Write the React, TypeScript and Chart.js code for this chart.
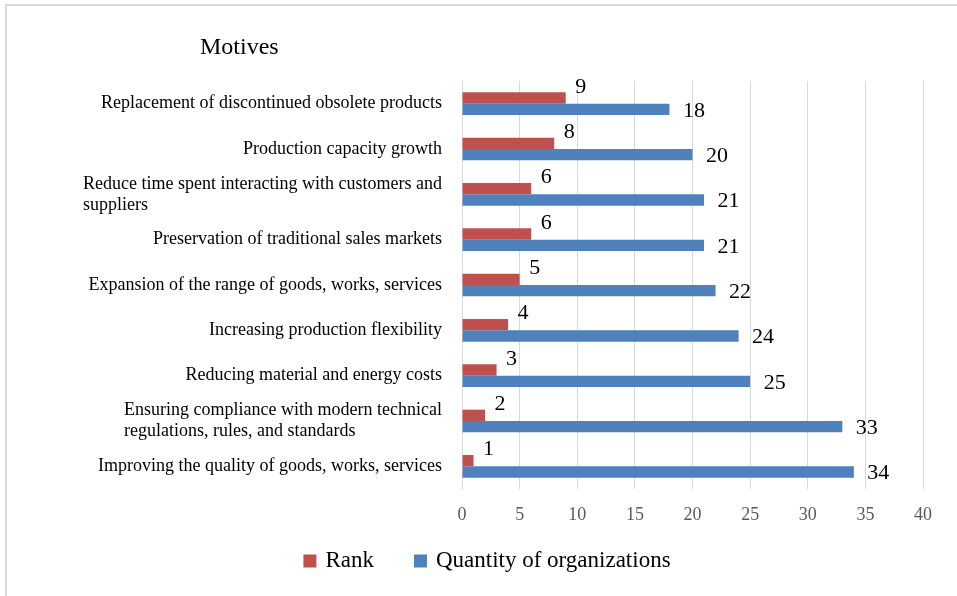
import React, { useEffect, useRef } from 'react';
import { Chart, registerables } from 'chart.js';

Chart.register(...registerables);

const titleText = 'Motives';
const categories: string[][] = [
  ['Replacement of discontinued obsolete products'],
  ['Production capacity growth'],
  ['Reduce time spent interacting with customers and', 'suppliers'],
  ['Preservation of traditional sales markets'],
  ['Expansion of the range of goods, works, services'],
  ['Increasing production flexibility'],
  ['Reducing material and energy costs'],
  ['Ensuring compliance with modern technical', 'regulations, rules, and standards'],
  ['Improving the quality of goods, works, services'],
];
const rankValues = [9, 8, 6, 6, 5, 4, 3, 2, 1];
const quantityValues = [18, 20, 21, 21, 22, 24, 25, 33, 34];
const seriesNames = ['Rank', 'Quantity of organizations'];
const seriesColors = ['#C0504D', '#4F81BD'];
const xMin = 0;
const xMax = 40;
const xStep = 5;

const SERIF = '"Liberation Serif", "Times New Roman", serif';

const overlayPlugin = {
  id: 'overlay',
  beforeDraw(chart: any) {
    const ctx = chart.ctx;
    ctx.save();
    ctx.strokeStyle = '#d9d9d9';
    ctx.lineWidth = 2;
    ctx.beginPath();
    ctx.moveTo(6, chart.height);
    ctx.lineTo(6, 5);
    ctx.lineTo(chart.width, 5);
    ctx.stroke();
    ctx.restore();
  },
  afterDraw(chart: any) {
    const ctx = chart.ctx;
    const area = chart.chartArea;
    ctx.save();
    // title
    ctx.fillStyle = '#000';
    ctx.font = `24px ${SERIF}`;
    ctx.textAlign = 'left';
    ctx.textBaseline = 'middle';
    ctx.fillText(titleText, 200, 48);

    // category labels (block right aligned, lines left aligned)
    const yScale = chart.scales.y;
    ctx.font = `18px ${SERIF}`;
    const lineH = 21;
    categories.forEach((lines, i) => {
      const maxW = Math.max(...lines.map((l) => ctx.measureText(l).width));
      const x = area.left - 20 - maxW;
      const cy = yScale.getPixelForValue(i);
      const y0 = cy - ((lines.length - 1) * lineH) / 2;
      lines.forEach((l, j) => ctx.fillText(l, x, y0 + j * lineH));
    });

    // data labels
    ctx.font = `22px ${SERIF}`;
    const m0 = chart.getDatasetMeta(0);
    m0.data.forEach((bar: any, i: number) => {
      ctx.textAlign = 'center';
      ctx.fillText(String(rankValues[i]), bar.x + 15, bar.y - 11);
    });
    const m1 = chart.getDatasetMeta(1);
    m1.data.forEach((bar: any, i: number) => {
      ctx.textAlign = 'left';
      ctx.fillText(String(quantityValues[i]), bar.x + 13.5, bar.y + 1.5);
    });

    // legend
    ctx.font = `23px ${SERIF}`;
    ctx.textAlign = 'left';
    const box = 13;
    const gapBox = 9;
    const gapItem = 40;
    const widths = seriesNames.map((n) => ctx.measureText(n).width);
    const total = widths.reduce((a, w) => a + box + gapBox + w, 0) + gapItem;
    let x = 487 - total / 2;
    const ly = 561;
    seriesNames.forEach((n, i) => {
      ctx.fillStyle = seriesColors[i];
      ctx.fillRect(x, ly - box / 2, box, box);
      x += box + gapBox;
      ctx.fillStyle = '#000';
      ctx.fillText(n, x, ly);
      x += widths[i] + gapItem;
    });
    ctx.restore();
  },
};

export default function App() {
  const ref = useRef<HTMLCanvasElement>(null);
  useEffect(() => {
    if (!ref.current) return;
    const chart = new Chart(ref.current, {
      type: 'bar',
      data: {
        labels: categories.map((c) => c.join(' ')),
        datasets: [
          {
            label: seriesNames[0],
            data: rankValues,
            backgroundColor: seriesColors[0],
            barPercentage: 1,
            categoryPercentage: 0.5,
          },
          {
            label: seriesNames[1],
            data: quantityValues,
            backgroundColor: seriesColors[1],
            barPercentage: 1,
            categoryPercentage: 0.5,
          },
        ],
      },
      options: {
        indexAxis: 'y',
        responsive: false,
        animation: false,
        layout: { padding: { top: 81, right: 34, left: 0, bottom: 57 } },
        plugins: {
          legend: { display: false },
          title: { display: false },
          tooltip: { enabled: false },
        },
        scales: {
          x: {
            min: xMin,
            max: xMax,
            ticks: {
              stepSize: xStep,
              color: '#595959',
              font: { family: SERIF, size: 18 },
              padding: 15,
            },
            grid: { color: '#d9d9d9', drawTicks: false },
            border: { display: false },
            afterFit: (s: any) => {
              s.height = 50;
            },
          },
          y: {
            ticks: { display: false },
            grid: { display: false },
            border: { color: '#d9d9d9' },
            afterFit: (s: any) => {
              s.width = 462;
            },
          },
        },
      },
      plugins: [overlayPlugin],
    } as any);
    return () => chart.destroy();
  }, []);
  return (
    <div style={{ position: 'absolute', left: 0, top: 0, width: 957, height: 596 }}>
      <canvas ref={ref} width={957} height={596} style={{ display: 'block' }} />
    </div>
  );
}
